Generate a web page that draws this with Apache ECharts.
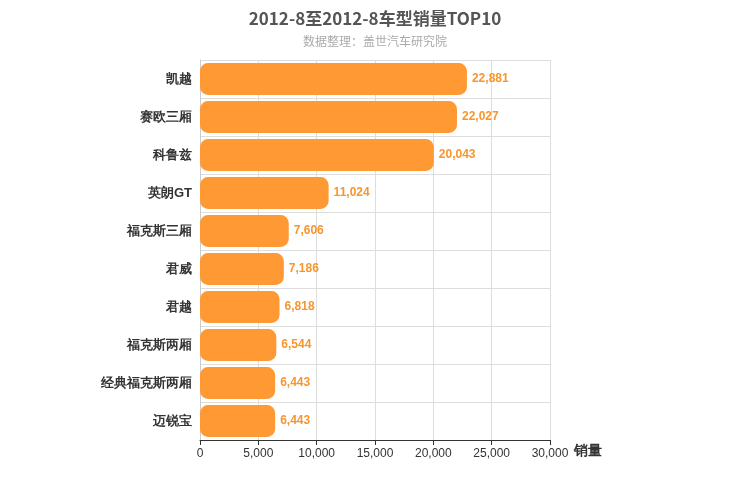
<!DOCTYPE html>
<html><head><meta charset="utf-8">
<script src="https://cdn.jsdelivr.net/npm/echarts@6/dist/echarts.min.js"></script>
<style>html,body{margin:0;padding:0}#c{width:750px;height:500px}</style>
</head><body><div id="c"></div>
<script>
const categories = ["凯越","赛欧三厢","科鲁兹","英朗GT","福克斯三厢","君威","君越","福克斯两厢","经典福克斯两厢","迈锐宝"];
const sales = [22881,22027,20043,11024,7606,7186,6818,6544,6443,6443];
const chart = echarts.init(document.getElementById('c'));
chart.setOption({
  animation:false,
  title:{text:"2012-8至2012-8车型销量TOP10",subtext:"数据整理：盖世汽车研究院",left:'center',top:5,
    textStyle:{fontSize:17,fontWeight:'bold',color:'#555',fontFamily:'Noto Sans CJK SC'},
    subtextStyle:{fontSize:12,color:'#aaa',fontFamily:'Noto Sans CJK SC'},itemGap:8},
  grid:{left:200,right:200,top:60,bottom:60},
  xAxis:{type:'value',min:0,max:30000,interval:5000,name:'销量',nameLocation:'end',nameGap:15,
    nameTextStyle:{fontSize:14,fontWeight:'bold',color:'#333',verticalAlign:'bottom',padding:[0,0,-18,0]},
    axisLine:{show:true,lineStyle:{color:'#333'}},axisTick:{show:true,lineStyle:{color:'#333'}},
    axisLabel:{color:'#333',fontSize:12,formatter:v=>v.toLocaleString('en-US')},
    splitLine:{lineStyle:{color:'#ddd'}}},
  yAxis:{type:'category',data:categories,inverse:true,
    axisLine:{show:true,lineStyle:{color:'#ccc'}},axisTick:{show:false},
    axisLabel:{color:'#333',fontSize:13,fontWeight:'bold',margin:8},
    splitLine:{show:true,interval:0,lineStyle:{color:'#ddd'}},
    splitArea:{show:false}},
  series:[{type:'bar',data:sales,barCategoryGap:'16%',
    itemStyle:{color:'#FF9933',borderRadius:8},
    label:{show:true,position:'right',color:'#F7962E',fontSize:12,fontWeight:'bold',
      formatter:p=>p.value.toLocaleString('en-US')}}]
});
</script></body></html>
